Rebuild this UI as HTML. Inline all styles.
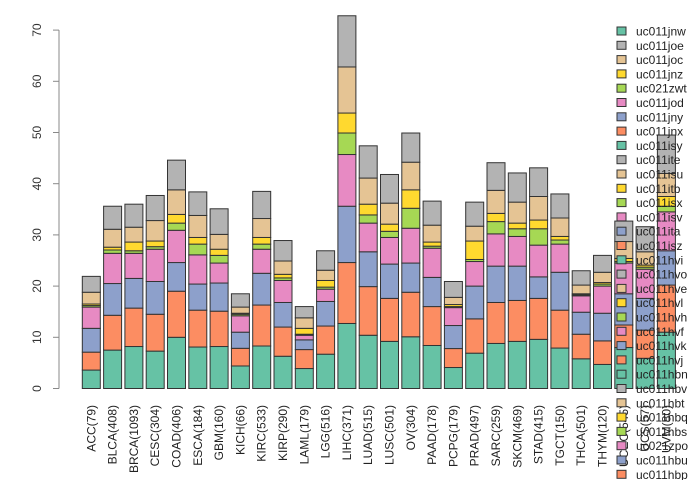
<!DOCTYPE html>
<html><head><meta charset="utf-8"><style>
body{margin:0;background:#fff}
svg{display:block;font-family:"Liberation Sans",sans-serif}
</style></head><body>
<svg id="chart" width="700" height="480" viewBox="0 0 700 480" xmlns="http://www.w3.org/2000/svg">
<g id="axis"></g>
<g id="bars"></g>
<g id="xlabels"></g>
<g id="legend"></g>
</svg>
<script>
const categories = ["ACC(79)","BLCA(408)","BRCA(1093)","CESC(304)","COAD(406)","ESCA(184)","GBM(160)","KICH(66)","KIRC(533)","KIRP(290)","LAML(179)","LGG(516)","LIHC(371)","LUAD(515)","LUSC(501)","OV(304)","PAAD(178)","PCPG(179)","PRAD(497)","SARC(259)","SKCM(469)","STAD(415)","TGCT(150)","THCA(501)","THYM(120)","UCEC(545)","UCS(57)","UVM(80)"];
// cumulative stack tops per category: green, orange, blue, pink, lime, yellow, tan, gray
const stackTops = [
[3.6,7.1,11.75,15.9,16.2,16.5,18.8,21.9],
[7.5,14.3,20.5,26.4,27.05,27.6,31.1,35.6],
[8.2,15.7,21.5,26.4,26.9,28.6,31.5,36.0],
[7.3,14.5,20.9,27.2,27.7,28.8,32.8,37.7],
[10.0,19.0,24.6,30.9,32.3,34.0,38.8,44.6],
[8.1,15.3,20.4,26.1,28.2,29.5,33.8,38.4],
[8.2,15.1,20.6,24.5,26.0,27.2,30.1,35.1],
[4.4,7.85,11.0,14.2,14.5,14.7,15.9,18.5],
[8.3,16.3,22.5,27.2,28.2,29.5,33.2,38.5],
[6.3,12.0,16.8,21.1,21.6,22.3,24.9,28.9],
[3.9,7.6,9.5,10.4,10.6,11.75,13.8,16.0],
[6.7,12.2,17.0,19.4,19.8,21.1,23.1,26.9],
[12.7,24.6,35.6,45.7,49.9,53.8,62.8,72.8],
[10.4,19.9,26.7,32.3,33.9,36.0,41.1,47.4],
[9.2,17.6,24.3,29.5,30.7,32.1,36.2,41.8],
[10.1,18.8,24.5,31.3,35.2,38.8,44.2,49.9],
[8.4,16.0,21.7,27.4,27.8,28.6,31.9,36.6],
[4.1,7.8,12.3,15.8,16.0,16.4,17.8,20.9],
[6.9,13.6,20.0,24.8,25.2,28.8,31.7,36.4],
[8.8,16.8,23.9,30.2,32.6,34.2,38.7,44.1],
[9.2,17.2,23.9,29.7,31.2,32.3,36.4,42.1],
[9.6,17.6,21.8,28.0,31.2,32.9,37.5,43.1],
[7.9,15.3,22.7,28.2,29.0,29.7,33.3,38.0],
[5.8,10.6,14.9,18.1,18.3,18.5,20.2,23.0],
[4.7,9.3,14.7,20.0,20.4,20.7,22.7,26.0],
[8.0,12.4,18.5,24.5,24.8,25.4,28.7,32.7],
[5.9,11.4,17.6,23.3,23.7,24.1,26.7,31.6],
[11.0,20.2,26.9,34.5,35.6,37.5,42.0,49.5]
];
const yTicks = [0,10,20,30,40,50,60,70];
const legendLabels = ["uc011jnw","uc011joe","uc011joc","uc011jnz","uc021zwt","uc011jod","uc011jny","uc011jnx","uc011isy","uc011ite","uc011isu","uc011itb","uc011isx","uc011isv","uc011ita","uc011isz","uc011hvi","uc011hvo","uc011hve","uc011hvl","uc011hvh","uc011hvf","uc011hvk","uc011hvj","uc011hbn","uc011hbv","uc011hbt","uc011hbq","uc011hbs","uc021zpo","uc011hbu","uc011hbp"];
const legendColorIdx = [0,7,6,5,4,3,2,1,0,7,6,5,4,3,2,1,0,7,6,5,4,3,2,1,0,7,6,5,4,3,2,1];
const colors = ["#66c2a5","#fc8d62","#8da0cb","#e78ac3","#a6d854","#ffd92f","#e5c494","#b3b3b3"];

const NS="http://www.w3.org/2000/svg";
const y0=388.5, pxPerUnit=5.12;
const yScale=v=>y0-v*pxPerUnit;
const xStart=82.3, step=21.3, bw=18;
const xScale=i=>xStart+i*step;
function mk(tag,attrs,parent){const e=document.createElementNS(NS,tag);for(const k in attrs)e.setAttribute(k,attrs[k]);parent.appendChild(e);return e;}

const ax=document.getElementById('axis');
const axLine=mk('line',{x1:59,x2:59,y1:yScale(0),y2:yScale(70),stroke:'#888','stroke-width':1},ax);


yTicks.forEach(t=>{
  const y=yScale(t);
  const tk=mk('line',{x1:53,x2:59,y1:y,y2:y,stroke:'#888'},ax);
  
  
  const tx=mk('text',{x:0,y:0,transform:`translate(41,${y}) rotate(-90)`,'text-anchor':'middle','font-size':12,fill:'#333'},ax);
  tx.textContent=t;
  
  
});

const bg=document.getElementById('bars');
const xl=document.getElementById('xlabels');
categories.forEach((c,i)=>{
  const x=xScale(i);
  let prev=0;
  stackTops[i].forEach((top,s)=>{
    const r=mk('rect',{x:x,y:yScale(top),width:bw,height:Math.max(0,(top-prev)*pxPerUnit),fill:colors[s],stroke:'#333','stroke-width':1},bg);
    
    
    prev=top;
  });
  const t=mk('text',{x:0,y:0,transform:`translate(${x+bw/2+4},405) rotate(-90)`,'text-anchor':'end','font-size':12,fill:'#222'},xl);
  t.textContent=c;
  
  
});

const lg=document.getElementById('legend');
legendLabels.forEach((l,i)=>{
  const y=31+i*14.3;
  const sq=mk('rect',{x:617,y:y-4,width:9,height:8,fill:colors[legendColorIdx[i]],stroke:'#333','stroke-width':1},lg);
  
  
  const t=mk('text',{x:636,y:y+4.5,'font-size':12,fill:'#222'},lg);
  t.textContent=l;
  
  
});
</script>
</body></html>
